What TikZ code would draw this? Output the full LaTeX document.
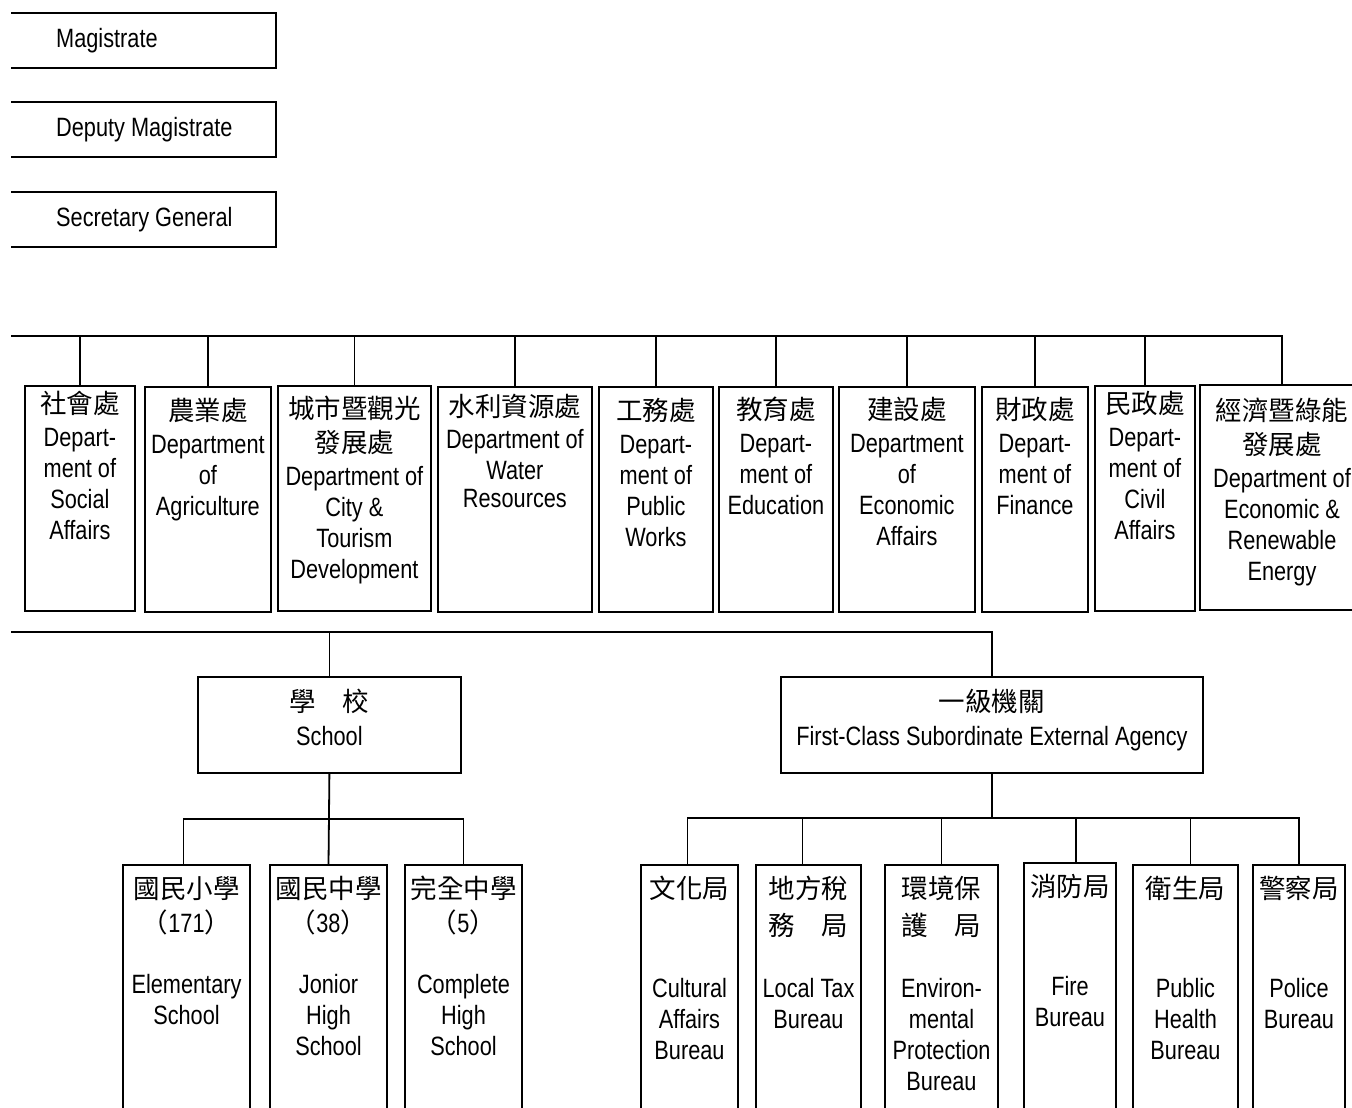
\documentclass[tikz,border=0pt]{standalone}
\usepackage{fontspec}
\setmainfont{Liberation Sans}[FakeStretch=0.82]
\newfontfamily\cjkfont{Noto Sans CJK TC}
\usetikzlibrary{positioning}

\begin{document}
\begin{tikzpicture}[x=1pt,y=-1pt,font=\fontsize{26.5}{31}\selectfont,
ln/.style={line width=1.8pt},
topbox/.style={anchor=north west,minimum width=265pt,minimum height=55pt,inner sep=0pt,outer sep=0pt},
dept/.style={draw,line width=1.8pt,anchor=north west,minimum height=225pt,inner sep=0pt},
midbox/.style={draw,line width=1.8pt,anchor=north west,minimum height=96pt,inner sep=0pt},
kid/.style={anchor=north west,minimum height=243pt,inner sep=0pt,outer sep=0pt},
txt/.style={anchor=north,align=center,inner sep=0pt}]
\useasboundingbox(0,0)rectangle(1352,1108);

% top offices, left side open
\node[topbox](mag)at(11,13){};
\node[topbox](dep)at(11,102){};
\node[topbox](sec)at(11,192){};
\node[anchor=west,inner sep=0pt]at([xshift=45pt]mag.west){Magistrate};
\node[anchor=west,inner sep=0pt]at([xshift=45pt]dep.west){Deputy Magistrate};
\node[anchor=west,inner sep=0pt]at([xshift=45pt]sec.west){Secretary General};
\foreach \t in {mag,dep,sec}{\draw[ln](\t.north west)--(\t.north east)--(\t.south east)--(\t.south west);}

% departments
\node[dept,minimum width=110pt](soc)at(24,385){};
\node[dept,minimum width=126pt](agr)at(144,386){};
\node[dept,minimum width=153pt](city)at(277,385){};
\node[dept,minimum width=154pt](water)at(437,386){};
\node[dept,minimum width=114pt](works)at(598,386){};
\node[dept,minimum width=114pt](edu)at(718,386){};
\node[dept,minimum width=136pt](econ)at(838,386){};
\node[dept,minimum width=106pt](fin)at(981,386){};
\node[dept,minimum width=100pt](civ)at(1094,385){};
\node[dept,draw=none,minimum width=152pt,outer sep=0pt](ecore)at(1200,385){};
\draw[ln](ecore.north east)--(ecore.north west)--(ecore.south west)--(ecore.south east);
\coordinate(ecoretop)at([xshift=6pt]ecore.north);
\node[txt]at([yshift=-6pt]soc.north){{\cjkfont 社會處}\\[2pt]Depart-\\ment of\\Social\\Affairs};
\node[txt]at([yshift=-12pt]agr.north){{\cjkfont 農業處}\\[2pt]Department\\of\\Agriculture};
\node[txt]at([yshift=-11pt]city.north){{\cjkfont 城市暨觀光}\\[3pt]{\cjkfont 發展處}\\[2pt]Department of\\City \&\\Tourism\\Development};
\node[txt]at([yshift=-8pt]water.north){{\cjkfont 水利資源處}\\[1pt]Department of\\Water\\[-3pt]Resources};
\node[txt]at([yshift=-12pt]works.north){{\cjkfont 工務處}\\[2pt]Depart-\\ment of\\Public\\Works};
\node[txt]at([yshift=-11pt]edu.north){{\cjkfont 教育處}\\[2pt]Depart-\\ment of\\Education};
\node[txt]at([yshift=-11pt]econ.north){{\cjkfont 建設處}\\[2pt]Department\\of\\Economic\\Affairs};
\node[txt]at([yshift=-11pt]fin.north){{\cjkfont 財政處}\\[2pt]Depart-\\ment of\\Finance};
\node[txt]at([yshift=-6pt]civ.north){{\cjkfont 民政處}\\[2pt]Depart-\\ment of\\Civil\\Affairs};
\node[txt]at([yshift=-13pt]ecoretop){{\cjkfont 經濟暨綠能}\\[3pt]{\cjkfont 發展處}\\[2pt]Department of\\Economic \&\\Renewable\\Energy};
\coordinate(bus)at(11,336);
\draw[ln](bus)-|(ecoretop);
\foreach \d in {soc,agr,city,water,works,edu,econ,fin,civ}{\draw[ln](\d.north)--(\d.north|-bus);}

% school and agency
\node[midbox,minimum width=263pt](school)at(197,676){};
\node[midbox,minimum width=422pt](agen)at(780,676){};
\node[txt]at([yshift=-13pt]school.north){{\cjkfont 學　校}\\[3pt]School};
\node[txt]at([yshift=-13pt]agen.north){{\cjkfont 一級機關}\\[3pt]First-Class Subordinate External Agency};
\coordinate(bus2)at(11,632);
\draw[ln](bus2)-|(agen.north);
\draw[ln](school.north)--(school.north|-bus2);

% schools
\node[kid,minimum width=127pt](elem)at(123,865){};
\node[kid,minimum width=117pt](jun)at(270,865){};
\node[kid,minimum width=117pt](comp)at(405,865){};
\node[txt]at([yshift=-11pt]elem.north){{\cjkfont 國民小學}\\[3pt]{\cjkfont （}171{\cjkfont ）}\\[30pt]Elementary\\School};
\node[txt]at([yshift=-11pt]jun.north){{\cjkfont 國民中學}\\[3pt]{\cjkfont （}38{\cjkfont ）}\\[30pt]Jonior\\High\\School};
\node[txt]at([yshift=-11pt]comp.north){{\cjkfont 完全中學}\\[3pt]{\cjkfont （}5{\cjkfont ）}\\[30pt]Complete\\High\\School};
\coordinate(sfork)at(0,819);
\draw[ln](school.south)--(jun.north);
\draw[ln]([xshift=-3pt]elem.north)|-(comp.north|-sfork)--(comp.north);

% bureaus
\node[kid,minimum width=97pt](cult)at(641,865){};
\node[kid,minimum width=105pt](tax)at(756,865){};
\node[kid,minimum width=113pt](env)at(885,865){};
\node[kid,minimum width=92pt,minimum height=245pt](fire)at(1024,863){};
\node[kid,minimum width=105pt](health)at(1133,865){};
\node[kid,minimum width=92pt](police)at(1253,865){};
\node[txt]at([yshift=-11pt]cult.north){{\cjkfont 文化局}\\[68pt]Cultural\\Affairs\\Bureau};
\node[txt]at([yshift=-11pt]tax.north){{\cjkfont 地方稅}\\[6pt]{\cjkfont 務　局}\\[31pt]Local Tax\\Bureau};
\node[txt]at([yshift=-11pt]env.north){{\cjkfont 環境保}\\[6pt]{\cjkfont 護　局}\\[31pt]Environ-\\mental\\Protection\\Bureau};
\node[txt]at([yshift=-11pt]fire.north){{\cjkfont 消防局}\\[68pt]Fire\\Bureau};
\node[txt]at([yshift=-11pt]health.north){{\cjkfont 衛生局}\\[68pt]Public\\Health\\Bureau};
\node[txt]at([yshift=-11pt]police.north){{\cjkfont 警察局}\\[68pt]Police\\Bureau};
\foreach \k in {elem,jun,comp,cult,tax,env,fire,health,police}{\draw[ln](\k.south west)|-(\k.north east)--(\k.south east);}
\coordinate(afork)at(0,818);
\draw[ln](agen.south)--(agen.south|-afork);
\draw[ln]([xshift=-2pt]cult.north)|-(police.north|-afork)--(police.north);
\draw[ln]([xshift=-6pt]tax.north)--([xshift=-6pt]tax.north|-afork);
\draw[ln]([xshift=6pt]fire.north)--([xshift=6pt]fire.north|-afork);
\draw[ln]([xshift=5pt]health.north)--([xshift=5pt]health.north|-afork);
\draw[ln](env.north)--(env.north|-afork);
\end{tikzpicture}
\end{document}
